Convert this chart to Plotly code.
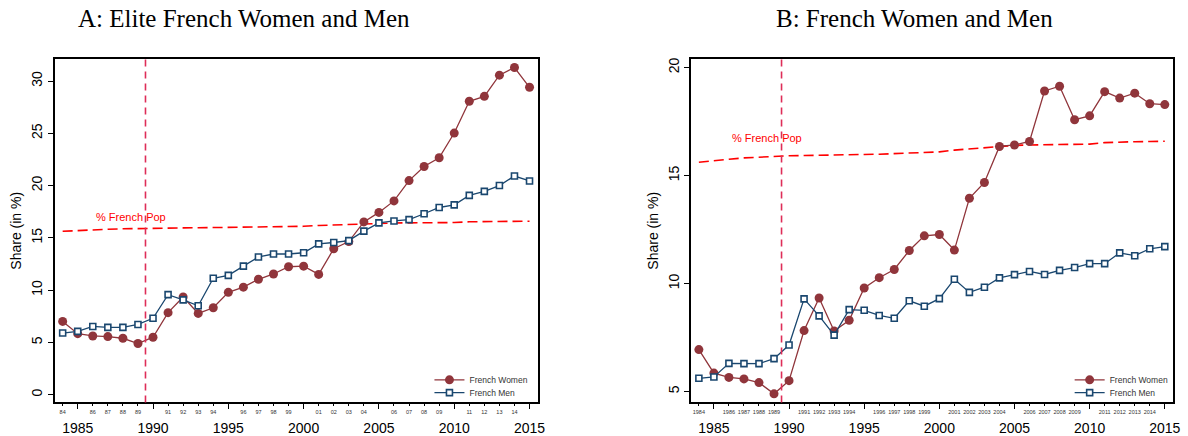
import plotly.graph_objects as go

years = list(range(1984, 2016))

# Panel A: Elite French Women and Men
elite_women = [7.0, 5.83, 5.61, 5.55, 5.39, 4.89, 5.49, 7.84, 9.34, 7.77, 8.31, 9.78, 10.28, 11.03,
               11.54, 12.23, 12.29, 11.5, 13.95, 14.64, 16.52, 17.43, 18.53, 20.47, 21.82, 22.66,
               25.02, 28.06, 28.53, 30.56, 31.29, 29.4]
elite_men = [5.89, 6.05, 6.52, 6.43, 6.43, 6.71, 7.30, 9.56, 9.06, 8.50, 11.13, 11.41, 12.29, 13.17,
             13.45, 13.45, 13.57, 14.42, 14.55, 14.73, 15.64, 16.43, 16.61, 16.74, 17.30, 17.9,
             18.15, 19.06, 19.44, 20.0, 20.91, 20.44]

# Panel B: French Women and Men
all_women = [6.94, 5.85, 5.65, 5.58, 5.41, 4.89, 5.5, 7.82, 9.33, 7.80, 8.30, 9.79, 10.27, 10.65,
             11.53, 12.21, 12.27, 11.55, 13.95, 14.68, 16.35, 16.42, 16.58, 18.92, 19.14, 17.59,
             17.77, 18.89, 18.59, 18.82, 18.33, 18.29]
all_men = [5.61, 5.67, 6.30, 6.29, 6.29, 6.52, 7.15, 9.29, 8.50, 7.61, 8.79, 8.76, 8.52, 8.39,
           9.20, 8.95, 9.30, 10.20, 9.59, 9.83, 10.26, 10.41, 10.56, 10.42, 10.61, 10.74,
           10.92, 10.92, 11.42, 11.29, 11.61, 11.71]

# Share of French in population
french_pop = [15.62, 15.70, 15.76, 15.82, 15.86, 15.90, 15.92, 15.93, 15.95, 15.96, 15.97, 15.98,
              15.99, 16.01, 16.03, 16.06, 16.10, 16.18, 16.24, 16.30, 16.36, 16.40, 16.42, 16.43,
              16.43, 16.44, 16.46, 16.53, 16.56, 16.57, 16.58, 16.59]

event_year = 1989.5
pop_label = "% French Pop"
pop_label_pos = (1988.56, 16.46)

major_years = [1985, 1990, 1995, 2000, 2005, 2010, 2015]
minor_years = [y for y in years if y % 5 != 0]
minor_text_a = [f"{y % 100:02d}" for y in minor_years]
minor_text_b = [str(y) for y in minor_years]

titles = ["A: Elite French Women and Men", "B: French Women and Men"]
yticks_a = [0, 5, 10, 15, 20, 25, 30]
yticks_b = [5, 10, 15, 20]

W, H = 1188, 436
WOMEN_C = "rgb(144,53,59)"
MEN_C = "rgb(26,71,111)"
POP_C = "rgb(255,0,0)"
VLINE_C = "rgb(222,45,88)"
SANS = "Liberation Sans, Arial"

def px(x):
    return x / W

def py(y):
    return 1 - y / H

fig = go.Figure()

panels = [
    dict(x="x", y="y", women=elite_women, men=elite_men, lw="legend", lm="legend3", lx=432),
    dict(x="x2", y="y2", women=all_women, men=all_men, lw="legend2", lm="legend4", lx=1076),
]

legends = {}
for p in panels:
    fig.add_trace(go.Scatter(
        x=years, y=french_pop, xaxis=p["x"], yaxis=p["y"], mode="lines",
        line=dict(color=POP_C, width=1.6, dash="10px,5px"), showlegend=False, hoverinfo="skip"))
    fig.add_trace(go.Scatter(
        x=years, y=p["women"], xaxis=p["x"], yaxis=p["y"], mode="lines+markers",
        name="French Women", legend=p["lw"],
        line=dict(color=WOMEN_C, width=1.3),
        marker=dict(symbol="circle", size=9, color=WOMEN_C)))
    fig.add_trace(go.Scatter(
        x=years, y=p["men"], xaxis=p["x"], yaxis=p["y"], mode="lines+markers",
        name="French Men", legend=p["lm"],
        line=dict(color=MEN_C, width=1.3),
        marker=dict(symbol="square", size=6, color="white", line=dict(color=MEN_C, width=1.6))))
    fig.add_shape(type="line", x0=event_year, x1=event_year, y0=0, y1=1,
                  xref=p["x"], yref=f"{p['y']} domain",
                  line=dict(color=VLINE_C, width=1.6, dash="7px,5px"))
    fig.add_annotation(x=pop_label_pos[0], y=pop_label_pos[1], xref=p["x"], yref=p["y"],
                       text=pop_label, showarrow=False, yanchor="bottom", yshift=-2,
                       font=dict(family=SANS, size=11, color=POP_C))
    for key, ycen in ((p["lw"], 385), (p["lm"], 398)):
        legends[key] = dict(x=px(p["lx"]), y=py(ycen), xanchor="left", yanchor="middle",
                            bgcolor="rgba(0,0,0,0)", borderwidth=0,
                            font=dict(family=SANS, size=8.5, color="#333"), itemwidth=30)

xr = [1983.47, 2015.55]
dom_a = [px(55), px(541)]
dom_b = [px(695), px(1180)]
ydom = [py(408), py(59)]

axis_font = dict(family=SANS, size=14, color="black")
common_x = dict(range=xr, showgrid=False, zeroline=False, showline=True, linecolor="black",
                linewidth=1.5, mirror=True, ticks="outside", ticklen=5, tickwidth=1.3,
                tickcolor="black", tickvals=major_years, tickfont=axis_font,
                ticklabelstandoff=7)
common_minor = dict(range=xr, showgrid=False, zeroline=False, showline=False,
                    ticks="outside", ticklen=3, tickwidth=1, tickcolor="black",
                    tickvals=minor_years, ticklabelstandoff=1,
                    tickfont=dict(family=SANS, size=5.5, color="#333"))
common_y = dict(showgrid=False, zeroline=False, showline=True, linecolor="black", linewidth=1.5,
                mirror=True, ticks="outside", ticklen=5, tickwidth=1.3, tickcolor="black",
                tickfont=axis_font, tickangle=-90, domain=ydom,
                title=dict(text="Share (in %)", font=dict(family=SANS, size=14, color="black"),
                           standoff=4))

fig.update_layout(
    width=W, height=H, margin=dict(l=0, r=0, t=0, b=0),
    paper_bgcolor="white", plot_bgcolor="white",
    font=dict(family=SANS, color="black"),
    xaxis=dict(domain=dom_a, anchor="y", **common_x),
    xaxis2=dict(domain=dom_b, anchor="y2", **common_x),
    xaxis3=dict(domain=dom_a, anchor="y", overlaying="x", side="bottom",
                ticktext=minor_text_a, **common_minor),
    xaxis4=dict(domain=dom_b, anchor="y2", overlaying="x2", side="bottom",
                ticktext=minor_text_b, **common_minor),
    yaxis=dict(anchor="x", range=[-0.75, 32.1], tickvals=yticks_a, **common_y),
    yaxis2=dict(anchor="x2", range=[4.49, 20.4], tickvals=yticks_b, **common_y),
    showlegend=True,
    **legends,
)

# dummy traces to attach overlay axes
for xo, yy in (("x3", "y"), ("x4", "y2")):
    fig.add_trace(go.Scatter(x=[years[0]], y=[None], xaxis=xo, yaxis=yy, mode="markers",
                             showlegend=False, hoverinfo="skip"))

for title, cx in zip(titles, [245, 920]):
    fig.add_annotation(x=px(cx), y=py(18), xref="paper", yref="paper", text=title,
                       showarrow=False, xanchor="center", yanchor="middle",
                       font=dict(family="Liberation Serif, DejaVu Serif, serif", size=25,
                                 color="black"))

fig.write_html("out.html")
